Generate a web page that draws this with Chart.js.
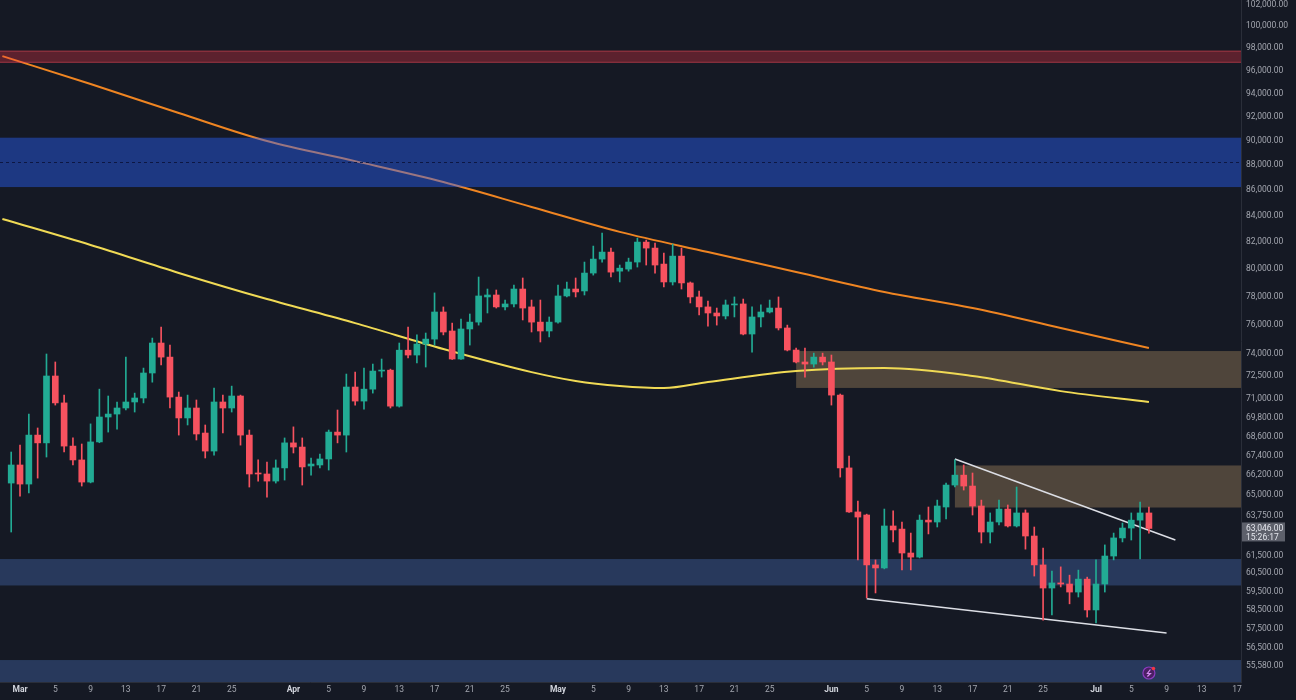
<!doctype html>
<html lang="en">
<head>
<meta charset="utf-8">
<title>Daily candles Mar - Jul</title>
<script src="https://cdn.jsdelivr.net/npm/chart.js@4.4.1/dist/chart.umd.min.js"></script>
<style>
    html, body { margin: 0; padding: 0; background: #151924; overflow: hidden; }
</style>
</head>
<body>
<canvas id="chart" width="1296" height="700"></canvas>
<script>
// day index 0 = Mar 1, first candle is Feb 29
const firstDay = -1;

const opens = [65730, 66830, 65670, 68690, 68200, 72520, 70750, 68000, 67140, 65790,
    68260, 69840, 70030, 70420, 70810, 71070, 72720, 74750, 73790, 71130,
    69780, 70420, 68820, 67690, 70810, 70420, 71200, 68690, 66340, 66280,
    65850, 66650, 68200, 67940, 66770, 66830, 67200, 68880, 68690, 71790,
    70870, 71650, 72850, 72910, 70540, 74260, 73930, 74680, 75020, 76910,
    75580, 73660, 75720, 76200, 77980, 78120, 77270, 77480, 78550, 77270,
    76200, 75580, 76200, 78050, 78550, 78410, 79710, 80740, 81260, 79850,
    80000, 80520, 82010, 81560, 80370, 79060, 80960, 78990, 77980, 77270,
    76840, 76630, 77410, 77480, 75370, 76560, 76910, 77190, 75790, 74270,
    73460, 73320, 73790, 73460, 71260, 66650, 64010, 63830, 60970, 60800,
    63190, 63010, 61640, 61410, 63530, 63420, 64300, 65610, 66210, 65550,
    64360, 62840, 63420, 64180, 63190, 63950, 62610, 60970, 59690, 59970,
    59910, 59470, 60180, 58500, 59910, 61470, 62500, 63070, 63530, 63950];

const highs = [67630, 68060, 70030, 69140, 74000, 73460, 71260, 68510, 68130, 69400,
    71650, 71200, 70810, 73790, 71390, 73050, 75090, 75860, 74610, 71460,
    71260, 70940, 69330, 71720, 71260, 71850, 71260, 69010, 67140, 67010,
    67140, 68510, 69210, 68510, 67260, 67510, 69010, 70290, 72650, 72780,
    73050, 73320, 73660, 72980, 74750, 75860, 75310, 75440, 78270, 77270,
    76130, 76420, 76770, 79420, 78550, 78480, 77760, 78840, 79350, 77760,
    77760, 76560, 78840, 79060, 79350, 80520, 81710, 82690, 81560, 80300,
    80810, 82310, 82160, 81930, 81180, 81860, 81560, 79060, 78410, 77690,
    77190, 77760, 77980, 77830, 77270, 77410, 77760, 77980, 75990, 74410,
    74410, 74060, 74060, 73930, 71330, 67380, 64650, 63880, 61250, 64180,
    64070, 63420, 62780, 63830, 64300, 64710, 65730, 67140, 66830, 66340,
    64710, 63950, 64710, 64420, 65490, 64130, 63130, 61920, 60620, 60860,
    60400, 60680, 60290, 61250, 62100, 62780, 63360, 63950, 64590, 64300];

const lows = [62840, 64950, 65140, 66030, 67320, 70610, 67630, 66830, 65550, 65740,
    68210, 68880, 69070, 70290, 70160, 70750, 72110, 73260, 70420, 68690,
    69330, 68380, 67260, 67440, 68820, 70160, 68060, 65490, 65850, 64890,
    65730, 65910, 67570, 65610, 66210, 66650, 66520, 68200, 67630, 70610,
    70350, 71390, 72450, 70420, 70480, 73730, 73390, 73120, 74610, 75310,
    73630, 73630, 74610, 75990, 76840, 77190, 77050, 77270, 76350, 75510,
    74820, 75170, 76130, 77980, 77980, 78120, 79560, 80520, 79420, 79060,
    79850, 80150, 80300, 79710, 78700, 78840, 78550, 77550, 76700, 75920,
    75990, 76420, 76560, 75310, 74130, 75860, 76840, 75650, 74210, 73390,
    72450, 73110, 73260, 70610, 66090, 63980, 61250, 59150, 59420, 60750,
    62270, 60690, 60690, 61360, 62730, 63130, 63600, 65490, 65310, 63830,
    62210, 62210, 63250, 63130, 63130, 61860, 60350, 57960, 58230, 59750,
    58830, 59200, 58120, 57810, 59470, 61250, 62270, 62380, 61300, 62780];

const closes = [66830, 65670, 68690, 68200, 72520, 70750, 68000, 67140, 65790, 68260,
    69840, 70030, 70420, 70810, 71070, 72720, 74750, 73790, 71130, 69780,
    70420, 68760, 67690, 70810, 70420, 71200, 68690, 66280, 66280, 65850,
    66650, 68200, 67940, 66710, 66890, 67200, 68880, 68690, 71790, 70870,
    71650, 72850, 72910, 70540, 74260, 73930, 74680, 75020, 76910, 75510,
    73660, 75720, 76200, 78050, 78120, 77270, 77480, 78550, 77190, 76200,
    75580, 76200, 78050, 78550, 78340, 79710, 80740, 81260, 79780, 80070,
    80520, 82010, 81560, 80300, 79060, 80960, 78990, 77980, 77270, 76840,
    76630, 77410, 77480, 75370, 76560, 76910, 77190, 75790, 74270, 73460,
    73320, 73790, 73460, 71260, 66650, 64010, 63710, 60970, 60800, 63190,
    62960, 61640, 61410, 63530, 63420, 64360, 65610, 66210, 65550, 64360,
    62840, 63420, 64180, 63190, 63950, 62610, 60970, 59690, 59970, 59910,
    59470, 60180, 58500, 59910, 61470, 62500, 63070, 63530, 63950, 63046];

// moving averages (read every ~10 days)
const slowMaDays = [-2, 8, 18, 28, 38, 48, 58, 68, 78, 88, 98, 108, 118, 128];
const slowMaValues = [97280, 94820, 92330, 89980, 88340, 86660, 84700, 82780, 81260, 79790, 78340, 77190, 75790, 74410];
const fastMaDays = [-2, 8, 18, 28, 38, 48, 58, 63, 68, 73, 78, 88, 98, 108, 118, 128];
const fastMaValues = [83770, 81790, 79720, 77830, 76130, 74340, 72780, 72190, 71860, 71720, 72120, 72850, 73050, 72520, 71520, 70810];

// hand drawn trend lines
const upperTrendDays = [106, 131];
const upperTrendValues = [67200, 62380];
const lowerTrendDays = [96, 130];
const lowerTrendValues = [59100, 57280];

// price zones (null start = from left edge, null low = down to axis bottom)
const zoneStartDays = [null, null, 88, 106, null, null];
const zoneHighs = [97770, 90260, 74200, 66800, 61300, 55870];
const zoneLows = [96690, 86260, 71730, 64270, 59830, null];
const zoneMids = [null, 88270, null, null, null, null];

// axis ticks
const yTickValues = [102000, 100000, 98000, 96000, 94000, 92000, 90000, 88000, 86000, 84000,
    82000, 80000, 78000, 76000, 74000, 72500, 71000, 69800, 68600, 67400, 66200, 65000,
    63750, 61500, 60500, 59500, 58500, 57500, 56500, 55580];
const xTickDays = [0, 4, 8, 12, 16, 20, 24, 31, 35, 39, 43, 47, 51, 55, 61, 65, 69, 73, 77, 81, 85,
    92, 96, 100, 104, 108, 112, 116, 122, 126, 130, 134, 138];
const xTickLabels = ['Mar', '5', '9', '13', '17', '21', '25', 'Apr', '5', '9', '13', '17', '21', '25',
    'May', '5', '9', '13', '17', '21', '25', 'Jun', '5', '9', '13', '17', '21', '25',
    'Jul', '5', '9', '13', '17'];

const lastPrice = 63046;
const countdown = '15:26:17';
const markerDay = 128;
const markerValue = 55210;

const upColor = '#22ab94';
const downColor = '#f7525f';
const zoneFills = ['rgba(242,54,69,0.32)', 'rgba(41,98,255,0.43)', 'rgba(255,204,128,0.25)',
    'rgba(255,204,128,0.25)', 'rgba(66,103,172,0.42)', 'rgba(66,103,172,0.42)'];
const zoneEdges = ['rgba(242,80,95,0.45)', null, null, null, null, null];

const days = opens.map((o, i) => firstDay + i);
const candleColors = opens.map((o, i) => closes[i] >= o ? upColor : downColor);

const toPoints = (xs, ys) => xs.map((x, i) => ({x: x, y: ys[i]}));

const zonesPlugin = {
    id: 'zones',
    beforeDatasetDraw(chart, args) {
        // zones sit above the slow MA but under everything else
        if (args.index !== 1) return;
        const ctx = chart.ctx;
        const a = chart.chartArea;
        const x = chart.scales.x, y = chart.scales.y;
        ctx.save();
        ctx.beginPath();
        ctx.rect(a.left, a.top, a.width, a.height);
        ctx.clip();
        zoneHighs.forEach(function (hi, i) {
            const left = zoneStartDays[i] === null ? a.left : x.getPixelForValue(zoneStartDays[i]);
            const top = y.getPixelForValue(hi);
            const bottom = zoneLows[i] === null ? a.bottom : y.getPixelForValue(zoneLows[i]);
            ctx.fillStyle = zoneFills[i];
            ctx.fillRect(left, top, a.right - left, bottom - top);
            if (zoneEdges[i]) {
                ctx.fillStyle = zoneEdges[i];
                ctx.fillRect(left, top, a.right - left, 1);
                ctx.fillRect(left, bottom - 1, a.right - left, 1);
            }
            if (zoneMids[i] !== null) {
                const my = Math.round(y.getPixelForValue(zoneMids[i])) + 0.5;
                ctx.strokeStyle = 'rgba(12,20,60,0.9)';
                ctx.lineWidth = 1;
                ctx.setLineDash([3, 3]);
                ctx.beginPath();
                ctx.moveTo(left, my);
                ctx.lineTo(a.right, my);
                ctx.stroke();
                ctx.setLineDash([]);
            }
        });
        ctx.restore();
    }
};

const priceLabelPlugin = {
    id: 'priceLabel',
    afterDraw(chart) {
        const ctx = chart.ctx;
        const a = chart.chartArea;
        const py = chart.scales.y.getPixelForValue(lastPrice);
        ctx.save();
        ctx.fillStyle = '#5d606b';
        ctx.fillRect(a.right + 1, py - 6, 43, 19);
        ctx.fillStyle = '#e3e5ec';
        ctx.font = '8.5px Roboto';
        ctx.textBaseline = 'middle';
        ctx.textAlign = 'left';
        ctx.fillText(lastPrice.toLocaleString('en-US', {minimumFractionDigits: 2}), a.right + 5, py);
        ctx.fillText(countdown, a.right + 5, py + 9);
        // small lightning glyph on the event marker
        const mx = chart.scales.x.getPixelForValue(markerDay);
        const my = chart.scales.y.getPixelForValue(markerValue);
        ctx.strokeStyle = '#d58cf0';
        ctx.lineWidth = 1.2;
        ctx.beginPath();
        ctx.moveTo(mx + 1.5, my - 3.5);
        ctx.lineTo(mx - 1.5, my + 0.5);
        ctx.lineTo(mx + 1.5, my + 0.5);
        ctx.lineTo(mx - 1.5, my + 3.5);
        ctx.stroke();
        ctx.fillStyle = '#f23645';
        ctx.beginPath();
        ctx.arc(mx + 4.5, my - 4.5, 1.8, 0, Math.PI * 2);
        ctx.fill();
        ctx.restore();
    }
};

Chart.defaults.font.family = 'Roboto, "Noto Sans", sans-serif';

new Chart(document.getElementById('chart'), {
    type: 'bar',
    data: {
        datasets: [
            {
                type: 'line',
                label: 'Slow MA',
                data: toPoints(slowMaDays, slowMaValues),
                borderColor: '#ef8522',
                borderWidth: 2,
                pointRadius: 0,
                cubicInterpolationMode: 'monotone',
                order: 10,
            },
            {
                type: 'line',
                label: 'Fast MA',
                data: toPoints(fastMaDays, fastMaValues),
                borderColor: '#f0da55',
                borderWidth: 2,
                pointRadius: 0,
                cubicInterpolationMode: 'monotone',
                order: 5,
            },
            {
                type: 'line',
                label: 'Upper trend',
                data: toPoints(upperTrendDays, upperTrendValues),
                borderColor: '#dcdee5',
                borderWidth: 1.5,
                pointRadius: 0,
                order: 4,
            },
            {
                type: 'line',
                label: 'Lower trend',
                data: toPoints(lowerTrendDays, lowerTrendValues),
                borderColor: '#dcdee5',
                borderWidth: 1.5,
                pointRadius: 0,
                order: 4,
            },
            {
                label: 'Wicks',
                data: days.map((d, i) => ({x: d, y: [lows[i], highs[i]]})),
                backgroundColor: candleColors,
                barThickness: 1,
                grouped: false,
                order: 2,
            },
            {
                label: 'Bodies',
                data: days.map((d, i) => ({x: d, y: [opens[i], closes[i]]})),
                backgroundColor: candleColors,
                barThickness: 6,
                minBarLength: 1,
                grouped: false,
                order: 1,
            },
            {
                type: 'line',
                label: 'Event',
                data: [{x: markerDay, y: markerValue}],
                showLine: false,
                pointRadius: 6,
                pointBackgroundColor: '#4a1f63',
                pointBorderColor: '#8e3cc0',
                pointBorderWidth: 1.2,
                order: 0,
            },
        ],
    },
    options: {
        responsive: false,
        animation: false,
        layout: { padding: 0, autoPadding: false },
        plugins: {
            legend: { display: false },
            tooltip: { enabled: false },
        },
        scales: {
            x: {
                type: 'linear',
                min: -2.27,
                max: 138.44,
                offset: false,
                grid: { display: false, drawTicks: false },
                border: { display: true, color: '#2a2e39' },
                ticks: {
                    autoSkip: false,
                    maxRotation: 0,
                    padding: 3,
                    color: (c) => isNaN(xTickLabels[c.index]) ? '#d1d4dc' : '#a3a6af',
                    font: (c) => ({ size: 8.5, weight: isNaN(xTickLabels[c.index]) ? 'bold' : 'normal' }),
                    callback: (v, i) => xTickLabels[i],
                },
                afterBuildTicks: (s) => { s.ticks = xTickDays.map(v => ({value: v})); },
                afterFit: (s) => { s.height = 18; s.paddingLeft = 0; s.paddingRight = 0; },
            },
            y: {
                type: 'logarithmic',
                position: 'right',
                min: 54755,
                max: 102426,
                grid: { display: false, drawTicks: false },
                border: { display: true, color: '#2a2e39' },
                ticks: {
                    autoSkip: false,
                    padding: 5,
                    color: '#a3a6af',
                    font: { size: 8.5 },
                    callback: (v) => Number(v).toLocaleString('en-US', {minimumFractionDigits: 2, maximumFractionDigits: 2}),
                },
                afterBuildTicks: (s) => { s.ticks = yTickValues.map(v => ({value: v})); },
                afterFit: (s) => { s.width = 55; s.paddingTop = 0; s.paddingBottom = 0; },
            },
        },
    },
    plugins: [zonesPlugin, priceLabelPlugin],
});
</script>
</body>
</html>
